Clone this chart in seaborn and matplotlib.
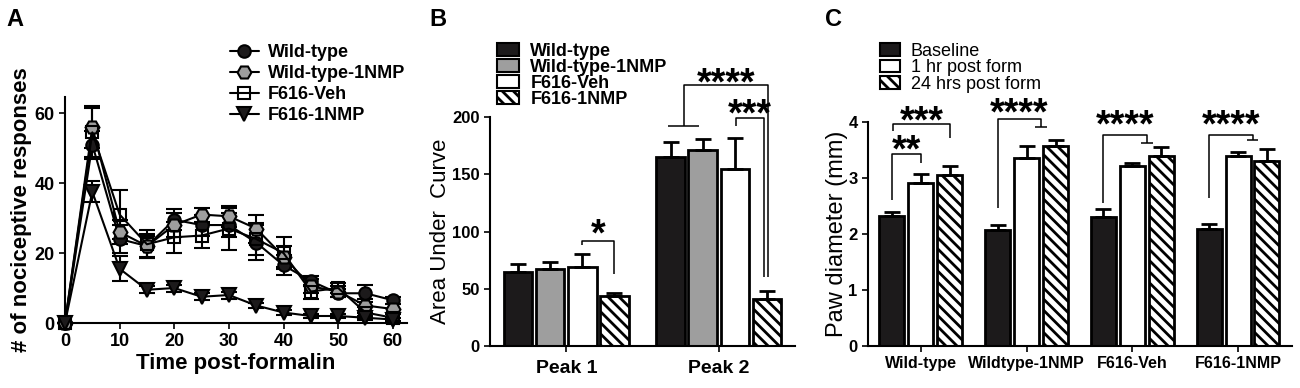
import matplotlib as mpl
import matplotlib.pyplot as plt
import numpy as np
import pandas as pd
import seaborn as sns
from matplotlib.lines import Line2D
from matplotlib.patches import Patch

# ---- Panel A: nociceptive responses over time ----
time_min = [0, 5, 10, 15, 20, 25, 30, 35, 40, 45, 50, 55, 60]
wt_mean = [0, 51, 24, 22, 29.5, 28, 28, 23, 16.5, 12, 8.5, 8.5, 6.5]
wt_sem = [0, 4, 4, 3.5, 3, 3, 3.5, 5, 2.8, 1.5, 1.2, 2.5, 1]
wt1nmp_mean = [0, 56, 26, 22, 28, 31, 30.5, 27, 19, 10.5, 9, 5, 4]
wt1nmp_sem = [0, 6, 3.5, 3, 3.5, 2, 3, 4, 3, 2, 1.5, 2, 1.5]
veh_mean = [0, 54.5, 31, 22.5, 24.5, 25, 27, 24, 20, 9, 10, 3, 1.5]
veh_sem = [0, 7, 7, 4, 4.5, 3.5, 6, 4.5, 4.5, 2, 1.5, 1.5, 1.5]
f1nmp_mean = [0, 37.5, 15.5, 9.5, 10, 7.5, 8, 5, 3, 2, 2, 1.5, 1]
f1nmp_sem = [0, 3, 3.6, 1, 1, 1, 1, 0.8, 0.8, 0.5, 0.5, 0.5, 0.5]

# ---- Panel B: area under curve ----
groups = ["Wild-type", "Wild-type-1NMP", "F616-Veh", "F616-1NMP"]
peaks = ["Peak 1", "Peak 2"]
auc_peak1 = [64.8, 67.4, 69.2, 43.5]
auc_peak1_sem = [6.7, 5.6, 10.8, 3]
auc_peak2 = [165, 171.4, 155, 41]
auc_peak2_sem = [13.5, 10, 27, 7]

# ---- Panel C: paw diameter ----
strains = ["Wild-type", "Wildtype-1NMP", "F616-Veh", "F616-1NMP"]
timepoints = ["Baseline", "1 hr post form", "24 hrs post form"]
paw_baseline = [2.32, 2.07, 2.29, 2.09]
paw_baseline_sem = [0.07, 0.08, 0.15, 0.09]
paw_1hr = [2.91, 3.35, 3.20, 3.39]
paw_1hr_sem = [0.16, 0.22, 0.07, 0.07]
paw_24hr = [3.05, 3.57, 3.39, 3.29]
paw_24hr_sem = [0.16, 0.11, 0.15, 0.23]

BLACK = "#1c1a1b"
GRAY = "#9e9e9e"
HATCH = "\\\\\\"

sns.set_style("ticks")
mpl.rcParams["font.family"] = ["Liberation Sans", "DejaVu Sans"]
mpl.rcParams["text.color"] = "black"
mpl.rcParams["axes.labelcolor"] = "black"
mpl.rcParams["xtick.color"] = "black"
mpl.rcParams["ytick.color"] = "black"
mpl.rcParams["hatch.linewidth"] = 2.0
mpl.rcParams["axes.linewidth"] = 1.5
mpl.rcParams["xtick.major.width"] = 1.2
mpl.rcParams["ytick.major.width"] = 1.2
mpl.rcParams["xtick.major.size"] = 4
mpl.rcParams["ytick.major.size"] = 4

fig = plt.figure(figsize=(13, 3.88), dpi=100)
W, H = 1300, 388


def axes_px(left, right, top, bottom):
    return fig.add_axes([left / W, 1 - bottom / H, (right - left) / W, (bottom - top) / H])


def style_axes(ax):
    sns.despine(ax=ax)
    ax.spines["left"].set_color("k")
    ax.spines["bottom"].set_color("k")
    ax.tick_params(colors="k", direction="out")


def bar_centers(container):
    return [p.get_x() + p.get_width() / 2 for p in container]


def bracket(ax, x1, x2, y_top, y1_bot, y2_bot, text, tee1=0, tee2=0, lift=10):
    """Significance bracket; lift = px between the line and the star centre."""
    kw = dict(color="k", lw=1.1, clip_on=False, solid_capstyle="butt")
    ax.plot([x1, x1, x2, x2], [y1_bot, y_top, y_top, y2_bot], **kw)
    if tee1:
        ax.plot([x1 - tee1, x1 + tee1], [y1_bot, y1_bot], **kw)
    if tee2:
        ax.plot([x2 - tee2, x2 + tee2], [y2_bot, y2_bot], **kw)
    ax.annotate(text, xy=((x1 + x2) / 2, y_top), xytext=(0, (lift - 17.8) * 0.72),
                textcoords="offset points", ha="center", va="baseline",
                fontsize=27, fontweight="bold", annotation_clip=False)


def add_up_errors(ax, bar_containers, sems):
    for cont, sem in zip(bar_containers, sems):
        xs = bar_centers(cont)
        hs = [p.get_height() for p in cont]
        ax.errorbar(xs, hs, yerr=[np.zeros(len(hs)), sem], fmt="none",
                    ecolor="k", elinewidth=2, capsize=6, capthick=2, zorder=3)


# =================== Panel A ===================
axA = axes_px(65, 407, 97, 323)
series = [
    ("Wild-type", wt_mean, wt_sem, "o", BLACK, 9),
    ("Wild-type-1NMP", wt1nmp_mean, wt1nmp_sem, "H", GRAY, 10),
    ("F616-Veh", veh_mean, veh_sem, "s", "none", 9),
    ("F616-1NMP", f1nmp_mean, f1nmp_sem, "v", BLACK, 10),
]
handlesA = []
for name, mean, sem, mk, fc, ms in series:
    axA.errorbar(time_min, mean, yerr=sem, fmt="none", ecolor="k",
                 elinewidth=1.5, capsize=6, capthick=1.5, clip_on=False, zorder=2)
    sns.lineplot(x=time_min, y=mean, ax=axA, color="k", lw=1.5, marker=mk,
                 markersize=ms, markerfacecolor=fc, markeredgecolor="k",
                 markeredgewidth=1.5, clip_on=False, zorder=3)
    handlesA.append(Line2D([], [], color="k", lw=1.5, marker=mk, markersize=ms,
                           markerfacecolor=fc, markeredgecolor="k",
                           markeredgewidth=1.5, label=name))
axA.set_xlim(0, 62.6)
axA.set_ylim(0, 64.6)
axA.set_xticks(range(0, 61, 10))
axA.set_yticks([0, 20, 40, 60])
style_axes(axA)
for lab in axA.get_xticklabels() + axA.get_yticklabels():
    lab.set_fontsize(13)
    lab.set_fontweight("bold")
axA.set_xlabel("Time post-formalin", fontsize=16, fontweight="bold", labelpad=2)
axA.set_ylabel("# of nociceptive responses", fontsize=16, fontweight="bold", labelpad=2)
fig.legend(handles=handlesA, loc="upper left", bbox_to_anchor=(230 / W, 1 - 44 / H),
           frameon=False, borderpad=0, borderaxespad=0, handlelength=1.6,
           handletextpad=0.5, labelspacing=0.23,
           prop={"size": 13, "weight": "bold"})

# =================== Panel B ===================
axB = axes_px(490, 795, 117.3, 345.7)
auc_df = pd.DataFrame({
    "peak": np.repeat(peaks, len(groups)),
    "group": groups * len(peaks),
    "auc": auc_peak1 + auc_peak2,
})
colorsB = [BLACK, GRAY, "white", "white"]
sns.barplot(data=auc_df, x="peak", y="auc", hue="group", order=peaks,
            hue_order=groups, palette=colorsB, width=0.84, gap=0.11,
            edgecolor="k", linewidth=2, errorbar=None, legend=False, ax=axB,
            saturation=1)
barsB = list(axB.containers)
for patch in barsB[3]:
    patch.set_hatch(HATCH)
semB = [[auc_peak1_sem[i], auc_peak2_sem[i]] for i in range(len(groups))]
add_up_errors(axB, barsB, semB)
axB.set_xlim(-0.5, 1.5)
axB.set_ylim(0, 200)
axB.set_yticks([0, 50, 100, 150, 200])
style_axes(axB)
axB.tick_params(axis="x", pad=6)
axB.set_xlabel("")
axB.set_ylabel("Area Under  Curve", fontsize=16, labelpad=1)
for lab in axB.get_yticklabels():
    lab.set_fontsize(12)
    lab.set_fontweight("bold")
for lab in axB.get_xticklabels():
    lab.set_fontsize(14)
    lab.set_fontweight("bold")

cB = [bar_centers(c) for c in barsB]
bracket(axB, cB[2][0], cB[3][0], 92, 88, 63, "*", lift=13)
mid_wt = (cB[0][1] + cB[1][1]) / 2
bracket(axB, mid_wt - 0.02, cB[3][1] + 0.01, 228, 192, 60, "****", tee1=0.1, lift=9)
bracket(axB, cB[2][1] + 0.01, cB[3][1] - 0.02, 199, 192, 60, "***", lift=11)

handlesB = [Patch(facecolor=c, edgecolor="k", linewidth=1.5, label=g,
                  hatch=HATCH if i == 3 else None)
            for i, (g, c) in enumerate(zip(groups, colorsB))]
fig.legend(handles=handlesB, loc="upper left", bbox_to_anchor=(497 / W, 1 - 43 / H),
           frameon=False, borderpad=0, borderaxespad=0, handlelength=1.2,
           handleheight=0.7, handletextpad=0.65, labelspacing=-0.06,
           prop={"size": 13, "weight": "bold"})

# =================== Panel C ===================
axC = axes_px(868, 1292, 121.7, 345.7)
paw_df = pd.DataFrame({
    "strain": strains * len(timepoints),
    "time": np.repeat(timepoints, len(strains)),
    "paw": paw_baseline + paw_1hr + paw_24hr,
})
colorsC = [BLACK, "white", "white"]
sns.barplot(data=paw_df, x="strain", y="paw", hue="time", order=strains,
            hue_order=timepoints, palette=colorsC, width=0.82, gap=0.135,
            edgecolor="k", linewidth=2, errorbar=None, legend=False, ax=axC,
            saturation=1)
barsC = list(axC.containers)
for patch in barsC[2]:
    patch.set_hatch(HATCH)
add_up_errors(axC, barsC, [paw_baseline_sem, paw_1hr_sem, paw_24hr_sem])
axC.set_xlim(-0.5, 3.51)
axC.set_ylim(0, 4)
axC.set_yticks([0, 1, 2, 3, 4])
style_axes(axC)
axC.set_xlabel("")
axC.set_ylabel("Paw diameter (mm)", fontsize=17, labelpad=0)
for lab in axC.get_yticklabels():
    lab.set_fontsize(12)
    lab.set_fontweight("bold")
for lab in axC.get_xticklabels():
    lab.set_fontsize(11.5)
    lab.set_fontweight("bold")

cC = [bar_centers(c) for c in barsC]
bracket(axC, cC[0][0], cC[1][0], 3.42, 2.60, 3.26, "**", lift=10)
bracket(axC, cC[0][0] + 0.01, cC[2][0], 3.96, 3.84, 3.70, "***", lift=9)
tops = [None, 4.05, 3.77, 3.77]
lbot = [None, 2.45, 2.55, 2.63]
rbot = [None, 3.91, 3.62, 3.68]
lifts = [None, 12, 16, 16]
for k in range(1, 4):
    mid = (cC[1][k] + cC[2][k]) / 2
    bracket(axC, cC[0][k], mid, tops[k], lbot[k], rbot[k], "****", tee2=0.055,
            lift=lifts[k])

handlesC = [Patch(facecolor=c, edgecolor="k", linewidth=1.5, label=t,
                  hatch=HATCH if i == 2 else None)
            for i, (t, c) in enumerate(zip(timepoints, colorsC))]
fig.legend(handles=handlesC, loc="upper left", bbox_to_anchor=(880 / W, 1 - 43 / H),
           frameon=False, borderpad=0, borderaxespad=0, handlelength=1.1,
           handleheight=0.7, handletextpad=0.6, labelspacing=-0.04,
           prop={"size": 13})

# Panel letters
for letter, x in [("A", 15), ("B", 438), ("C", 833)]:
    fig.text(x / W, 1 - 20 / H, letter, fontsize=17, fontweight="bold",
             ha="center", va="center")

fig.savefig("out.png", dpi=100)
